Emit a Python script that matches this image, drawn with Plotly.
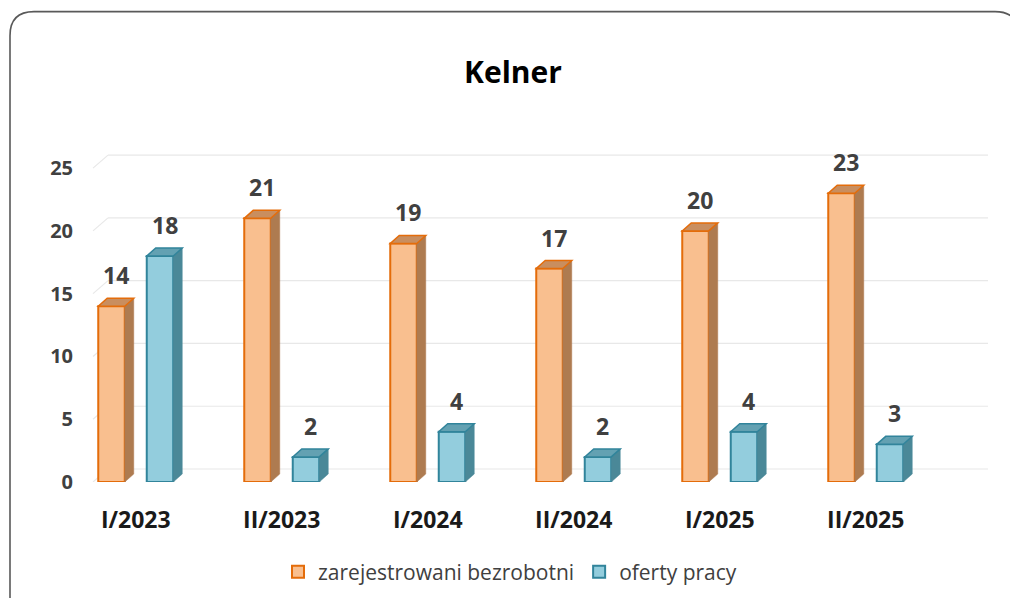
import plotly.graph_objects as go

# ---- data ----
categories = ["I/2023", "II/2023", "I/2024", "II/2024", "I/2025", "II/2025"]
bezrobotni = [14, 21, 19, 17, 20, 23]
oferty = [18, 2, 4, 2, 4, 3]
series_names = ["zarejestrowani bezrobotni", "oferty pracy"]
y_ticks = [0, 5, 10, 15, 20, 25]

# ---- geometry (page pixels -> figure pixels -> axis units) ----
OFF = 8                                   # page body margin
W, H = 1018 - OFF, 598 - OFF
Y_MAX = 27
PX_PER_Y = 12.56
PL, PR, PB = 80 - OFF, 990 - OFF, 482.5 - OFF
PT = PB - Y_MAX * PX_PER_Y
PX_PER_X = 146.0
X0_PIX = 135.75 - OFF                     # pixel of category index 0
x_lo = (PL - X0_PIX) / PX_PER_X
x_hi = (PR - X0_PIX) / PX_PER_X

bar_w = 26.5 / PX_PER_X
bar_shift = 24.25 / PX_PER_X
dx = 9 / PX_PER_X          # bar depth
dy = 8 / PX_PER_Y
wall_dx = 15 / PX_PER_X    # floor / wall depth
wall_dy = 13 / PX_PER_Y
grid_left = (93 - OFF - X0_PIX) / PX_PER_X
grid_right = (988 - OFF - X0_PIX) / PX_PER_X

FONT = "Open Sans"
styles = [
    dict(front="#F9BF8F", edge="#E46C0A", side="#AE7B50", top="#C98E5F", sign=-1),
    dict(front="#93CDDD", edge="#31849B", side="#4A8898", top="#63A1B2", sign=1),
]

xs = list(range(len(categories)))
fig = go.Figure()
shapes = []
annotations = []

# gridlines on the back wall, with the small floor diagonals at left
for t in y_ticks:
    shapes.append(dict(type="line", xref="x", yref="y", layer="below",
                       x0=grid_left + wall_dx, x1=grid_right,
                       y0=t + wall_dy, y1=t + wall_dy,
                       line=dict(color="#E8E8E8", width=1.2)))
    shapes.append(dict(type="line", xref="x", yref="y", layer="below",
                       x0=grid_left, x1=grid_left + wall_dx,
                       y0=t, y1=t + wall_dy,
                       line=dict(color="#E8E8E8", width=1.2)))

for name, vals, st in zip(series_names, [bezrobotni, oferty], styles):
    offs = st["sign"] * bar_shift - bar_w / 2
    fig.add_trace(go.Bar(
        x=xs, y=vals, name=name,
        width=bar_w, offset=offs,
        marker=dict(color=st["front"], line=dict(color=st["edge"], width=2)),
        hoverinfo="x+y",
    ))
    for xi, v in zip(xs, vals):
        xl = xi + offs
        xr = xl + bar_w
        # side face
        shapes.append(dict(
            type="path", xref="x", yref="y", layer="above",
            path=f"M {xr},{0} L {xr+dx},{dy} L {xr+dx},{v+dy} L {xr},{v} Z",
            fillcolor=st["side"], line=dict(color=st["side"], width=0.5)))
        # top face
        shapes.append(dict(
            type="path", xref="x", yref="y", layer="above",
            path=f"M {xl},{v} L {xr},{v} L {xr+dx},{v+dy} L {xl+dx},{v+dy} Z",
            fillcolor=st["top"], line=dict(color=st["edge"], width=1.5)))
        annotations.append(dict(
            x=xl + bar_w / 2 + dx / 2, y=v + dy, xref="x", yref="y",
            text=str(v), showarrow=False, yanchor="bottom", yshift=5,
            font=dict(family=FONT, size=23, color="#404040", weight="bold")))

# chart-area rounded border (page pixel coords -> paper)
def px(xp):
    return (xp - OFF - PL) / (PR - PL)

def py(yp):
    return (PB - (yp - OFF)) / (PB - PT)

r = 24
Lx, Tx, Rx, Bx = 10, 12, 1019, 620
border = (f"M {px(Lx)},{py(Bx)} L {px(Lx)},{py(Tx + r)} "
          f"Q {px(Lx)},{py(Tx)} {px(Lx + r)},{py(Tx)} "
          f"L {px(Rx - r)},{py(Tx)} Q {px(Rx)},{py(Tx)} {px(Rx)},{py(Tx + r)} "
          f"L {px(Rx)},{py(Bx)}")
shapes.append(dict(type="path", xref="paper", yref="paper", layer="above",
                   path=border, line=dict(color="#595959", width=1.6)))

fig.update_layout(
    width=W, height=H,
    margin=dict(l=PL, r=W - PR, t=PT, b=H - PB, autoexpand=False),
    paper_bgcolor="white", plot_bgcolor="white",
    barmode="overlay",
    showlegend=True,
    title=dict(text="<b>Kelner</b>", x=(513 - OFF) / W, xanchor="center",
               y=1 - (72 - OFF) / H, yanchor="middle", yref="container",
               font=dict(family=FONT, size=30, color="#000000")),
    xaxis=dict(range=[x_lo, x_hi], tickvals=xs, ticktext=categories,
               showgrid=False, zeroline=False, showline=False, ticks="",
               ticklabelstandoff=22,
               tickfont=dict(family=FONT, size=23, color="#1a1a1a", weight="bold")),
    yaxis=dict(range=[0, Y_MAX], tickvals=y_ticks, showgrid=False,
               zeroline=False, showline=False, ticks="",
               ticklabelstandoff=6,
               tickfont=dict(family=FONT, size=20, color="#404040", weight="bold")),
    legend=dict(orientation="h", xref="container", yref="container",
                x=(510 - OFF) / W, xanchor="center", y=1 - (572 - OFF) / H,
                yanchor="middle", itemwidth=30,
                font=dict(family=FONT, size=21, color="#404040"),
                itemsizing="constant", traceorder="normal"),
    shapes=shapes, annotations=annotations,
)

fig.write_html("out.html")
